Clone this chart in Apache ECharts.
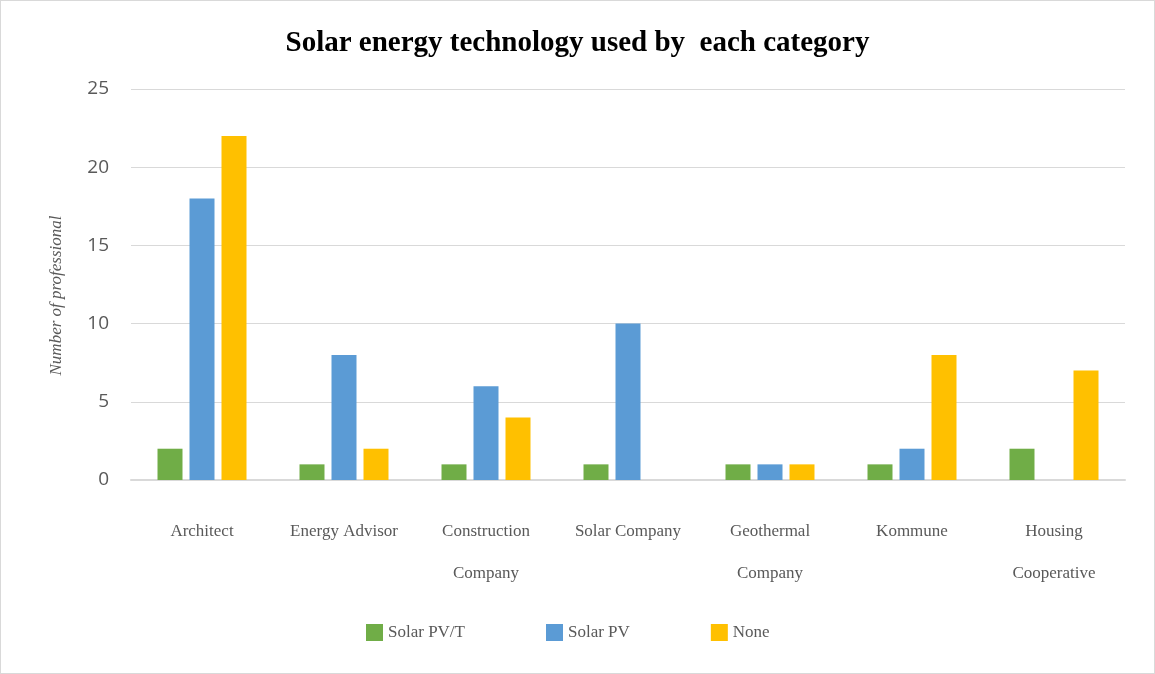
<!DOCTYPE html>
<html>
<head>
<meta charset="utf-8">
<script src="https://cdn.jsdelivr.net/npm/echarts@6/dist/echarts.min.js"></script>
<style>
  html, body { margin: 0; padding: 0; background: #fff; }
  #chart { width: 1153px; height: 672px; border: 1px solid #d9d9d9; }
</style>
</head>
<body>
<div id="chart"></div>
<script>
// data
var categories = ['Architect', 'Energy Advisor', 'Construction\nCompany', 'Solar Company',
  'Geothermal\nCompany', 'Kommune', 'Housing\nCooperative']
var solarPVT = [2, 1, 1, 1, 1, 1, 2]
var solarPV = [18, 8, 6, 10, 1, 2, 0]
var none = [22, 2, 4, 0, 1, 8, 7]
var seriesNames = ['Solar PV/T', 'Solar PV', 'None']

var chart = echarts.init(document.getElementById('chart'))
var labelFont = '"Liberation Serif", serif'

var option = {
  animation: false,
  color: ['#70ad47', '#5b9bd5', '#ffc000'],
  title: {
    text: 'Solar energy technology used by  each category',
    left: 'center',
    top: 23,
    textStyle: {
      fontFamily: '"Liberation Serif", serif',
      fontWeight: 'bold',
      fontSize: 29,
      color: '#000'
    }
  },
  legend: {
    data: seriesNames,
    bottom: 27,
    left: 360,
    itemWidth: 17,
    itemHeight: 17,
    itemGap: 81,
    icon: 'rect',
    textStyle: { fontFamily: labelFont, fontSize: 17, color: '#595959' }
  },
  grid: { left: 130, right: 29, top: 88, bottom: 193 },
  xAxis: {
    type: 'category',
    data: categories,
    axisLine: { lineStyle: { color: '#d9d9d9', width: 2 } },
    axisTick: { show: false },
    axisLabel: {
      interval: 0,
      margin: 31,
      fontFamily: labelFont,
      fontSize: 17,
      lineHeight: 42,
      color: '#595959'
    }
  },
  yAxis: {
    type: 'value',
    min: 0,
    max: 25,
    interval: 5,
    name: 'Number of professional',
    nameLocation: 'middle',
    nameGap: 66,
    nameTextStyle: {
      fontFamily: labelFont,
      fontStyle: 'italic',
      fontSize: 17,
      color: '#595959',
      padding: [0, 22, 0, 0]
    },
    axisLine: { show: false },
    axisLabel: { margin: 22, fontFamily: '"Open Sans", sans-serif', fontSize: 19, color: '#595959' },
    splitLine: { lineStyle: { color: '#d9d9d9', width: 1 } }
  },
  series: [
    { name: seriesNames[0], type: 'bar', data: solarPVT, barWidth: 25, barGap: '28%' },
    { name: seriesNames[1], type: 'bar', data: solarPV, barWidth: 25, barGap: '28%' },
    { name: seriesNames[2], type: 'bar', data: none, barWidth: 25, barGap: '28%' }
  ]
}

chart.setOption(option)
</script>
</body>
</html>
